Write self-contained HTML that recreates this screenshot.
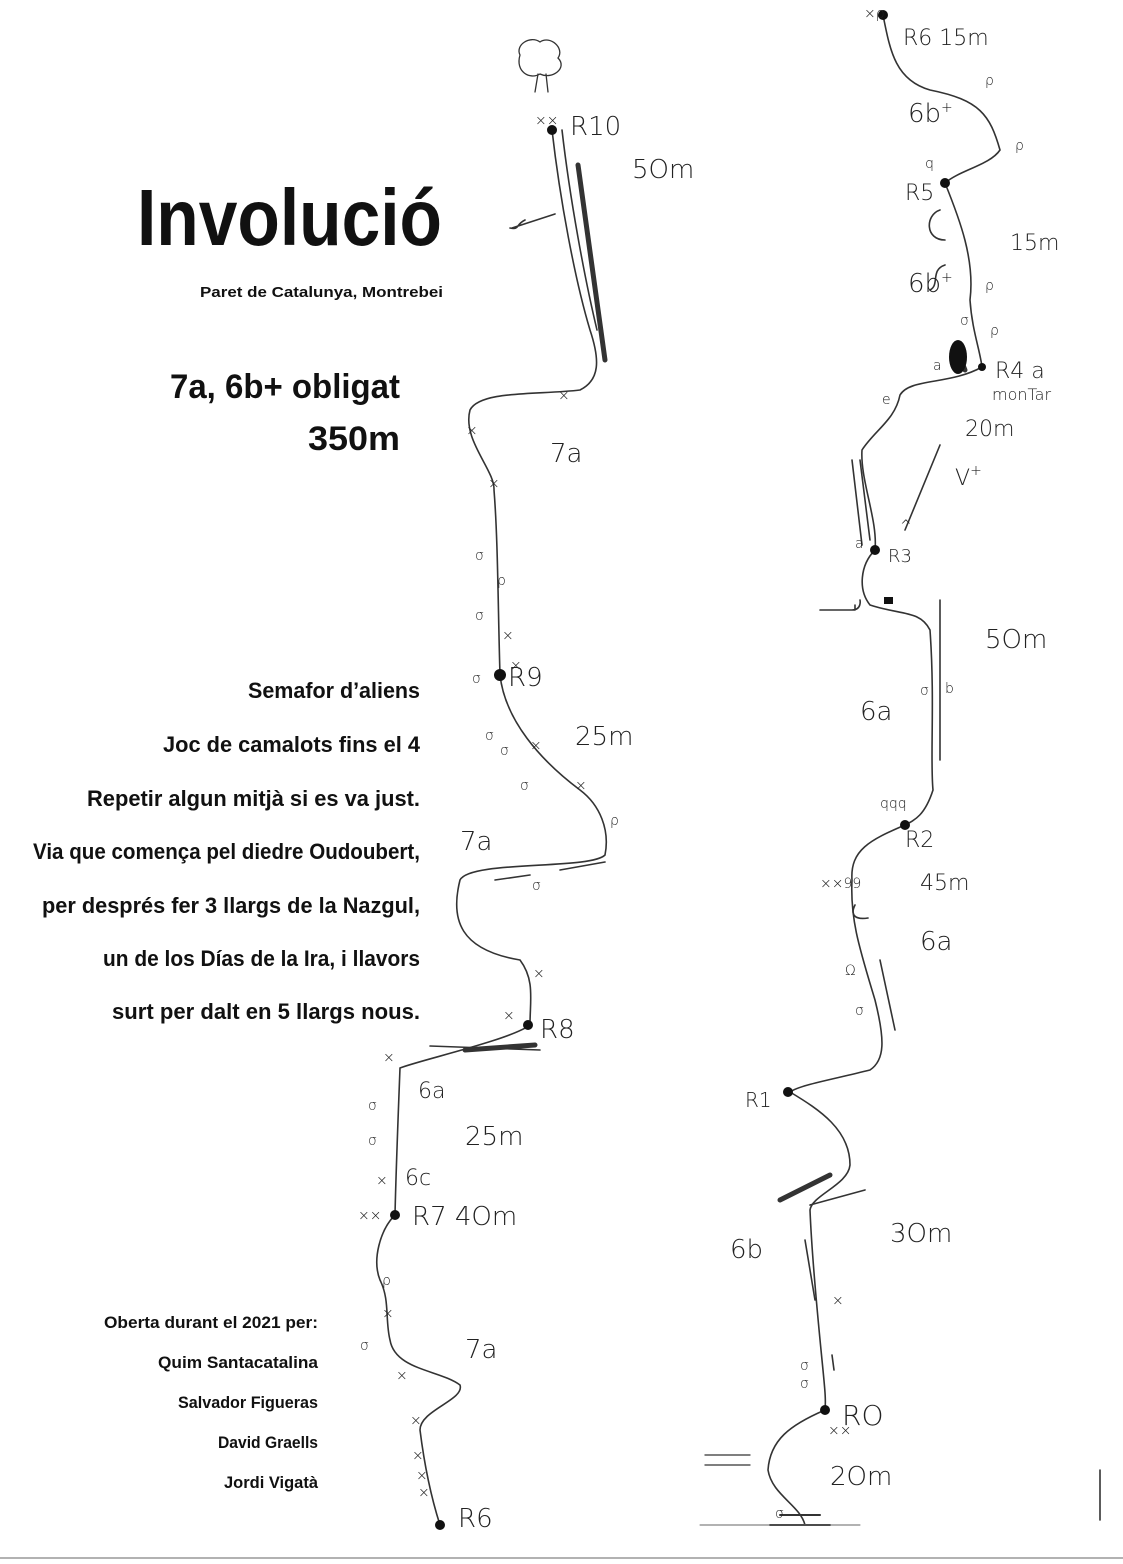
<!DOCTYPE html>
<html><head><meta charset="utf-8"><style>
html,body{margin:0;padding:0;background:#fff;}
body{width:1123px;height:1564px;overflow:hidden;position:relative;}
svg{position:absolute;left:0;top:0;}
.t{font-family:"Liberation Sans",sans-serif;font-weight:bold;fill:#111;}
.h{font-family:"DejaVu Sans","Liberation Sans",sans-serif;fill:#222;font-weight:300;}
</style></head><body>
<svg width="1123" height="1564" viewBox="0 0 1123 1564">
<g fill="none" stroke="#333" stroke-width="1.6" stroke-linecap="round">
<path d="M552 130 C560 200 575 280 590 330 C600 360 600 380 580 390 C540 395 480 390 470 410 C462 440 495 470 494 490 C498 540 498 610 500 675 C505 720 540 760 580 790 C600 805 610 830 605 855 C590 870 470 860 460 880 C450 920 460 950 520 960 C535 980 530 1000 530 1025 C510 1040 420 1060 400 1068 C398 1120 396 1170 395 1215 C380 1230 372 1260 380 1280 C390 1300 385 1320 390 1340 C395 1370 440 1370 460 1385 C465 1400 420 1410 420 1430 C425 1470 432 1500 440 1525"/>
<path d="M562 130 C570 200 585 280 597 330"/>
<path d="M883 15 C890 50 895 80 930 90 C980 100 990 115 1000 150 C990 165 960 170 945 183 C960 220 975 260 970 300 C972 330 980 350 982 367 C950 385 910 378 900 395 C895 420 875 430 862 450 C860 480 878 520 875 550 C860 565 858 590 870 605 C900 615 920 610 930 630 C935 700 930 760 933 790 C925 815 915 820 905 825 C870 840 850 850 852 880 C850 920 860 950 875 1000 C885 1040 885 1060 870 1070 C830 1080 800 1085 790 1092 C820 1110 850 1130 850 1165 C848 1185 812 1195 810 1210 C812 1260 818 1320 822 1360 C825 1390 826 1400 825 1410 C790 1425 770 1440 768 1470 C772 1495 800 1505 805 1525"/>
<path d="M860 460 L870 540 M852 460 L862 545 M940 445 L905 530 M1100 1470 L1100 1520"/>
<path d="M945 265 C930 270 940 285 930 290 M940 210 C925 215 925 240 945 240 M855 605 L855 610 M820 610 L855 610 M940 600 L940 760 M860 600 C860 600 862 610 852 610 M855 905 C850 915 855 920 868 918 M880 960 L895 1030 M805 1240 L815 1300 M832 1355 L834 1370 M810 1205 L865 1190 M525 220 C515 225 520 230 510 228 M512 228 L555 214 M495 880 L530 875 M560 870 L605 862 M430 1046 L540 1050"/>
<path d="M780 1515 L820 1515 M770 1525 L830 1525" stroke-width="2"/>
<path d="M700 1525 L860 1525 M0 1558 L1123 1558" stroke="#666" stroke-width="1"/>
<path d="M520 55 C515 45 530 35 540 42 C550 35 565 48 558 58 C568 68 552 80 540 74 C530 80 515 72 520 55 Z M538 74 L535 92 M546 74 L548 92" stroke-width="1.3"/>
<path d="M705 1465 L750 1465 M705 1455 L750 1455" stroke-width="1.3"/>
</g>
<g stroke="#333" stroke-width="5" stroke-linecap="round"><path d="M578 165 L605 360"/><path d="M465 1050 L535 1045"/><path d="M780 1200 L830 1175"/><path d="M955 345 L965 370"/></g>
<g fill="#111">
<circle cx="552" cy="130" r="5"/><circle cx="500" cy="675" r="6"/><circle cx="528" cy="1025" r="5"/><circle cx="395" cy="1215" r="5"/><circle cx="440" cy="1525" r="5"/>
<circle cx="883" cy="15" r="5"/><circle cx="945" cy="183" r="5"/><circle cx="982" cy="367" r="4"/><circle cx="875" cy="550" r="5"/><circle cx="905" cy="825" r="5"/><circle cx="788" cy="1092" r="5"/><circle cx="825" cy="1410" r="5"/>
<ellipse cx="958" cy="357" rx="9" ry="17"/><rect x="884" y="597" width="9" height="7"/>
</g>
<g class="h" font-size="26">
<text x="570" y="135">R10</text><text x="632" y="178">5Om</text><text x="550" y="462">7a</text>
<text x="508" y="686">R9</text><text x="575" y="745">25m</text><text x="460" y="850">7a</text>
<text x="540" y="1038">R8</text><text x="418" y="1098" font-size="22">6a</text><text x="465" y="1145">25m</text>
<text x="405" y="1185" font-size="22">6c</text><text x="412" y="1225">R7 4Om</text><text x="465" y="1358">7a</text><text x="458" y="1527">R6</text>
<text x="903" y="45" font-size="22">R6 15m</text><text x="908" y="122">6b<tspan font-size="14" dy="-10">+</tspan></text>
<text x="905" y="200" font-size="22">R5</text><text x="1010" y="250" font-size="22">15m</text><text x="908" y="292">6b<tspan font-size="14" dy="-10">+</tspan></text>
<text x="995" y="378" font-size="22">R4 a</text><text x="992" y="400" font-size="16">monTar</text><text x="965" y="436" font-size="22">20m</text><text x="955" y="485" font-size="22">V<tspan font-size="14" dy="-10">+</tspan></text>
<text x="888" y="562" font-size="18">R3</text><text x="985" y="648">5Om</text><text x="860" y="720">6a</text>
<text x="905" y="847" font-size="22">R2</text><text x="920" y="890" font-size="22">45m</text><text x="920" y="950">6a</text>
<text x="745" y="1107" font-size="20">R1</text><text x="890" y="1242">3Om</text><text x="730" y="1258">6b</text>
<text x="842" y="1425" font-size="28">RO</text><text x="830" y="1485">2Om</text>
</g>
<g class="h" font-size="14" fill="#333">
<text x="535" y="125">××</text><text x="558" y="400">×</text><text x="466" y="435">×</text><text x="488" y="488">×</text>
<text x="475" y="560">σ</text><text x="497" y="585">ρ</text><text x="475" y="620">σ</text><text x="502" y="640">×</text><text x="472" y="683">σ</text><text x="510" y="670">×</text>
<text x="485" y="740">σ</text><text x="500" y="755">σ</text><text x="530" y="750">×</text><text x="520" y="790">σ</text><text x="575" y="790">×</text><text x="610" y="825">ρ</text><text x="532" y="890">σ</text>
<text x="533" y="978">×</text><text x="503" y="1020">×</text><text x="383" y="1062">×</text><text x="368" y="1110">σ</text><text x="368" y="1145">σ</text><text x="376" y="1185">×</text><text x="358" y="1220">××</text>
<text x="382" y="1285">ρ</text><text x="382" y="1318">×</text><text x="360" y="1350">σ</text><text x="396" y="1380">×</text><text x="410" y="1425">×</text><text x="412" y="1460">×</text><text x="416" y="1480">×</text><text x="418" y="1497">×</text>
<text x="864" y="18">×ρ</text><text x="985" y="85">ρ</text><text x="1015" y="150">ρ</text><text x="925" y="168">q</text><text x="985" y="290">ρ</text><text x="960" y="325">σ</text><text x="990" y="335">ρ</text><text x="933" y="370">a</text><text x="882" y="404">e</text>
<text x="855" y="548">a</text><text x="900" y="530">^</text><text x="920" y="695">σ</text><text x="945" y="693">b</text><text x="880" y="808">qqq</text><text x="820" y="888">××99</text>
<text x="845" y="975">Ω</text><text x="855" y="1015">σ</text><text x="832" y="1305">×</text><text x="800" y="1370">σ</text><text x="800" y="1388">σ</text><text x="828" y="1435">××</text><text x="775" y="1518">σ</text>
</g>
<text class="t" x="137" y="245" font-size="80" textLength="305" lengthAdjust="spacingAndGlyphs">Involució</text>
<text class="t" x="200" y="297" font-size="15" textLength="243" lengthAdjust="spacingAndGlyphs">Paret de Catalunya, Montrebei</text>
<text class="t" x="170" y="398" font-size="34" textLength="230" lengthAdjust="spacingAndGlyphs">7a, 6b+ obligat</text>
<text class="t" x="308" y="450" font-size="34" textLength="92" lengthAdjust="spacingAndGlyphs">350m</text>
<g class="t" font-size="22" lengthAdjust="spacingAndGlyphs">
<text x="248" y="698" textLength="172" lengthAdjust="spacingAndGlyphs">Semafor d’aliens</text>
<text x="163" y="752" textLength="257" lengthAdjust="spacingAndGlyphs">Joc de camalots fins el 4</text>
<text x="87" y="806" textLength="333" lengthAdjust="spacingAndGlyphs">Repetir algun mitjà si es va just.</text>
<text x="33" y="859" textLength="387" lengthAdjust="spacingAndGlyphs">Via que comença pel diedre Oudoubert,</text>
<text x="42" y="913" textLength="378" lengthAdjust="spacingAndGlyphs">per després fer 3 llargs de la Nazgul,</text>
<text x="103" y="966" textLength="317" lengthAdjust="spacingAndGlyphs">un de los Días de la Ira, i llavors</text>
<text x="112" y="1019" textLength="308" lengthAdjust="spacingAndGlyphs">surt per dalt en 5 llargs nous.</text>
</g>
<g class="t" font-size="17">
<text x="104" y="1328" textLength="214" lengthAdjust="spacingAndGlyphs">Oberta durant el 2021 per:</text>
<text x="158" y="1368" textLength="160" lengthAdjust="spacingAndGlyphs">Quim Santacatalina</text>
<text x="178" y="1408" textLength="140" lengthAdjust="spacingAndGlyphs">Salvador Figueras</text>
<text x="218" y="1448" textLength="100" lengthAdjust="spacingAndGlyphs">David Graells</text>
<text x="224" y="1488" textLength="94" lengthAdjust="spacingAndGlyphs">Jordi Vigatà</text>
</g>
</svg>
</body></html>
